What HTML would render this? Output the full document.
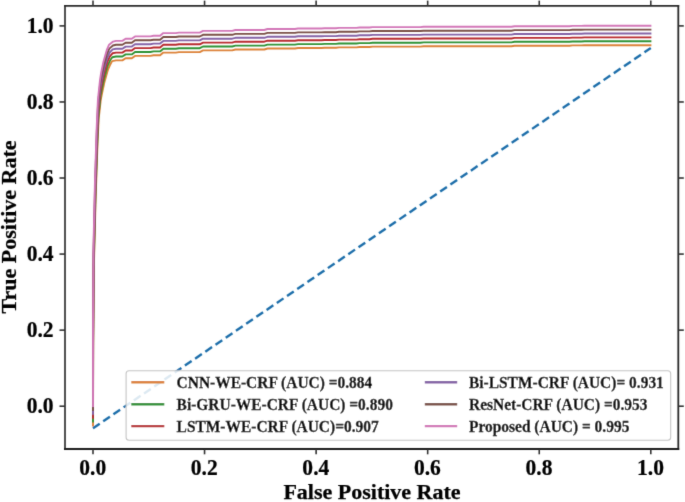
<!DOCTYPE html>
<html><head><meta charset="utf-8"><style>
html,body{margin:0;padding:0;background:#fff;}
svg{display:block;}
text{font-family:"Liberation Serif",serif;font-weight:bold;fill:#000;stroke:#000;stroke-width:0.25px;}
</style></head><body>
<svg width="685" height="502" viewBox="0 0 685 502">
<defs><filter id="bl" x="-2%" y="-2%" width="104%" height="104%"><feConvolveMatrix order="3" kernelMatrix="0.01134 0.08382 0.01134 0.08382 0.61935 0.08382 0.01134 0.08382 0.01134" divisor="1" edgeMode="duplicate" preserveAlpha="false"/></filter></defs>
<rect width="685" height="502" fill="#fff"/>
<g filter="url(#bl)">
<g fill="none" stroke-width="1.9" stroke-linejoin="round">
<path d="M93.00,426.50 L93.20,349.50 L93.80,269.50 L95.60,199.50 L97.30,149.50 L98.60,119.50 L100.80,99.50 L102.40,91.50 L104.60,81.40 L108.00,69.50 L110.40,64.20 L112.10,61.10 L116.00,60.40 L122.40,60.40 L125.60,58.30 L131.80,58.30 L135.00,55.90 L150.40,55.90 L153.60,55.30 L160.10,55.30 L163.30,52.60 L175.80,52.60 L179.00,52.10 L199.80,52.10 L203.00,50.40 L232.20,50.40 L235.40,49.50 L264.30,49.50 L267.50,48.50 L294.90,48.50 L298.10,48.00 L321.40,48.00 L324.60,47.80 L335.90,47.80 L339.10,47.40 L356.40,47.40 L359.60,47.00 L369.40,47.00 L372.60,46.60 L420.40,46.60 L423.60,46.30 L511.40,46.30 L514.60,45.70 L569.40,45.70 L572.60,45.40 L581.40,45.40 L584.60,45.20 L651.40,45.20" stroke="#dc8238" />
<path d="M93.00,422.60 L93.16,345.60 L93.72,265.60 L95.48,195.60 L97.16,145.60 L98.46,115.60 L100.64,95.60 L102.18,87.60 L104.36,77.50 L107.76,65.60 L110.14,60.30 L112.30,57.20 L116.00,56.50 L122.40,56.50 L125.60,54.40 L131.80,54.40 L135.00,52.00 L150.40,52.00 L153.60,51.40 L160.10,51.40 L163.30,48.70 L175.80,48.70 L179.00,48.20 L199.80,48.20 L203.00,46.50 L232.20,46.50 L235.40,45.60 L264.30,45.60 L267.50,44.60 L294.90,44.60 L298.10,44.10 L321.40,44.10 L324.60,43.90 L335.90,43.90 L339.10,43.50 L356.40,43.50 L359.60,43.10 L369.40,43.10 L372.60,42.70 L420.40,42.70 L423.60,42.40 L511.40,42.40 L514.60,41.80 L569.40,41.80 L572.60,41.50 L581.40,41.50 L584.60,41.30 L651.40,41.30" stroke="#2f9234" />
<path d="M93.00,418.70 L93.12,341.70 L93.64,261.70 L95.36,191.70 L97.02,141.70 L98.32,111.70 L100.48,91.70 L101.96,83.70 L104.12,73.60 L107.52,61.70 L109.88,56.40 L112.50,53.30 L116.00,52.60 L122.40,52.60 L125.60,50.50 L131.80,50.50 L135.00,48.10 L150.40,48.10 L153.60,47.50 L160.10,47.50 L163.30,44.80 L175.80,44.80 L179.00,44.30 L199.80,44.30 L203.00,42.60 L232.20,42.60 L235.40,41.70 L264.30,41.70 L267.50,40.70 L294.90,40.70 L298.10,40.20 L321.40,40.20 L324.60,40.00 L335.90,40.00 L339.10,39.60 L356.40,39.60 L359.60,39.20 L369.40,39.20 L372.60,38.80 L420.40,38.80 L423.60,38.50 L511.40,38.50 L514.60,37.90 L569.40,37.90 L572.60,37.60 L581.40,37.60 L584.60,37.40 L651.40,37.40" stroke="#b82a2e" />
<path d="M93.00,414.80 L93.08,337.80 L93.56,257.80 L95.24,187.80 L96.88,137.80 L98.18,107.80 L100.32,87.80 L101.74,79.80 L103.88,69.70 L107.28,57.80 L109.62,52.50 L112.70,49.40 L116.00,48.70 L122.40,48.70 L125.60,46.60 L131.80,46.60 L135.00,44.20 L150.40,44.20 L153.60,43.60 L160.10,43.60 L163.30,40.90 L175.80,40.90 L179.00,40.40 L199.80,40.40 L203.00,38.70 L232.20,38.70 L235.40,37.80 L264.30,37.80 L267.50,36.80 L294.90,36.80 L298.10,36.30 L321.40,36.30 L324.60,36.10 L335.90,36.10 L339.10,35.70 L356.40,35.70 L359.60,35.30 L369.40,35.30 L372.60,34.90 L420.40,34.90 L423.60,34.60 L511.40,34.60 L514.60,34.00 L569.40,34.00 L572.60,33.70 L581.40,33.70 L584.60,33.50 L651.40,33.50" stroke="#8462a6" />
<path d="M93.00,410.90 L93.04,333.90 L93.48,253.90 L95.12,183.90 L96.74,133.90 L98.04,103.90 L100.16,83.90 L101.52,75.90 L103.64,65.80 L107.04,53.90 L109.36,48.60 L112.90,45.50 L116.00,44.80 L122.40,44.80 L125.60,42.70 L131.80,42.70 L135.00,40.30 L150.40,40.30 L153.60,39.70 L160.10,39.70 L163.30,37.00 L175.80,37.00 L179.00,36.50 L199.80,36.50 L203.00,34.80 L232.20,34.80 L235.40,33.90 L264.30,33.90 L267.50,32.90 L294.90,32.90 L298.10,32.40 L321.40,32.40 L324.60,32.20 L335.90,32.20 L339.10,31.80 L356.40,31.80 L359.60,31.40 L369.40,31.40 L372.60,31.00 L420.40,31.00 L423.60,30.70 L511.40,30.70 L514.60,30.10 L569.40,30.10 L572.60,29.80 L581.40,29.80 L584.60,29.60 L651.40,29.60" stroke="#7a5046" />
<path d="M93.00,407.00 L93.00,330.00 L93.40,250.00 L95.00,180.00 L96.60,130.00 L97.90,100.00 L100.00,80.00 L101.30,72.00 L103.40,61.90 L106.80,50.00 L109.10,44.70 L113.10,41.60 L116.00,40.90 L122.40,40.90 L125.60,38.80 L131.80,38.80 L135.00,36.40 L150.40,36.40 L153.60,35.80 L160.10,35.80 L163.30,33.10 L175.80,33.10 L179.00,32.60 L199.80,32.60 L203.00,30.90 L232.20,30.90 L235.40,30.00 L264.30,30.00 L267.50,29.00 L294.90,29.00 L298.10,28.50 L321.40,28.50 L324.60,28.30 L335.90,28.30 L339.10,27.90 L356.40,27.90 L359.60,27.50 L369.40,27.50 L372.60,27.10 L420.40,27.10 L423.60,26.80 L511.40,26.80 L514.60,26.20 L569.40,26.20 L572.60,25.90 L581.40,25.90 L584.60,25.70 L651.40,25.70" stroke="#d277b8" />
</g>
<line x1="93.0" y1="428.26" x2="650.8" y2="47.96" stroke="#1c6eaa" stroke-width="2.4" stroke-dasharray="8.1 4.26"/>
<rect x="126.1" y="370.7" width="544.6" height="69.5" rx="3" fill="#fff" fill-opacity="0.85" stroke="#c4c4c4" stroke-width="1.1"/>
<g stroke-width="1.8">
<line x1="65" y1="4.9" x2="65" y2="449.9" stroke="#3a3a3a"/>
<line x1="678.3" y1="4.9" x2="678.3" y2="449.9" stroke="#2a2a2a"/>
<line x1="64.1" y1="5.8" x2="679.2" y2="5.8" stroke="#2a2a2a"/>
<line x1="64.1" y1="449" x2="679.2" y2="449" stroke="#1a1a1a"/>
</g>
<g stroke="#333" stroke-width="1.6">
<line x1="93.00" y1="449" x2="93.00" y2="454.3"/>
<line x1="93.00" y1="0.6" x2="93.00" y2="5.8"/>
<line x1="59.5" y1="406.20" x2="65" y2="406.20"/>
<line x1="678.3" y1="406.20" x2="683.8" y2="406.20"/>
<line x1="204.56" y1="449" x2="204.56" y2="454.3"/>
<line x1="204.56" y1="0.6" x2="204.56" y2="5.8"/>
<line x1="59.5" y1="330.14" x2="65" y2="330.14"/>
<line x1="678.3" y1="330.14" x2="683.8" y2="330.14"/>
<line x1="316.12" y1="449" x2="316.12" y2="454.3"/>
<line x1="316.12" y1="0.6" x2="316.12" y2="5.8"/>
<line x1="59.5" y1="254.08" x2="65" y2="254.08"/>
<line x1="678.3" y1="254.08" x2="683.8" y2="254.08"/>
<line x1="427.68" y1="449" x2="427.68" y2="454.3"/>
<line x1="427.68" y1="0.6" x2="427.68" y2="5.8"/>
<line x1="59.5" y1="178.02" x2="65" y2="178.02"/>
<line x1="678.3" y1="178.02" x2="683.8" y2="178.02"/>
<line x1="539.24" y1="449" x2="539.24" y2="454.3"/>
<line x1="539.24" y1="0.6" x2="539.24" y2="5.8"/>
<line x1="59.5" y1="101.96" x2="65" y2="101.96"/>
<line x1="678.3" y1="101.96" x2="683.8" y2="101.96"/>
<line x1="650.80" y1="449" x2="650.80" y2="454.3"/>
<line x1="650.80" y1="0.6" x2="650.80" y2="5.8"/>
<line x1="59.5" y1="25.90" x2="65" y2="25.90"/>
<line x1="678.3" y1="25.90" x2="683.8" y2="25.90"/>
</g>
<g font-size="23.3">
<text transform="translate(92.70,474.7) scale(0.925,1)" text-anchor="middle">0.0</text>
<text transform="translate(53.6,413.30) scale(0.925,1)" text-anchor="end">0.0</text>
<text transform="translate(204.26,474.7) scale(0.925,1)" text-anchor="middle">0.2</text>
<text transform="translate(53.6,337.24) scale(0.925,1)" text-anchor="end">0.2</text>
<text transform="translate(315.82,474.7) scale(0.925,1)" text-anchor="middle">0.4</text>
<text transform="translate(53.6,261.18) scale(0.925,1)" text-anchor="end">0.4</text>
<text transform="translate(427.38,474.7) scale(0.925,1)" text-anchor="middle">0.6</text>
<text transform="translate(53.6,185.12) scale(0.925,1)" text-anchor="end">0.6</text>
<text transform="translate(538.94,474.7) scale(0.925,1)" text-anchor="middle">0.8</text>
<text transform="translate(53.6,109.06) scale(0.925,1)" text-anchor="end">0.8</text>
<text transform="translate(650.50,474.7) scale(0.925,1)" text-anchor="middle">1.0</text>
<text transform="translate(53.6,33.00) scale(0.925,1)" text-anchor="end">1.0</text>
</g>
<g font-size="15.45">
<line x1="131.3" y1="382.30" x2="164.3" y2="382.30" stroke="#dc8238" stroke-width="2.4"/>
<text transform="translate(176.6,387.60) scale(1,1.065)">CNN-WE-CRF (AUC) =0.884</text>
<line x1="131.3" y1="404.20" x2="164.3" y2="404.20" stroke="#2f9234" stroke-width="2.4"/>
<text transform="translate(176.6,409.70) scale(1,1.065)">Bi-GRU-WE-CRF (AUC) =0.890</text>
<line x1="131.3" y1="426.10" x2="164.3" y2="426.10" stroke="#b82a2e" stroke-width="2.4"/>
<text transform="translate(176.6,431.90) scale(1,1.065)">LSTM-WE-CRF (AUC)=0.907</text>
<line x1="424.8" y1="382.30" x2="457.2" y2="382.30" stroke="#8462a6" stroke-width="2.4"/>
<text transform="translate(469.0,387.60) scale(1,1.065)">Bi-LSTM-CRF (AUC)= 0.931</text>
<line x1="424.8" y1="404.20" x2="457.2" y2="404.20" stroke="#7a5046" stroke-width="2.4"/>
<text transform="translate(469.0,409.70) scale(1,1.065)">ResNet-CRF (AUC) =0.953</text>
<line x1="424.8" y1="426.10" x2="457.2" y2="426.10" stroke="#d277b8" stroke-width="2.4"/>
<text transform="translate(469.0,431.90) scale(1,1.065)">Proposed (AUC) = 0.995</text>
</g>
<text x="372" y="499" text-anchor="middle" font-size="22">False Positive Rate</text>
<text transform="translate(16,227) rotate(-90)" text-anchor="middle" font-size="22">True Positive Rate</text>
</g>
</svg>
</body></html>
